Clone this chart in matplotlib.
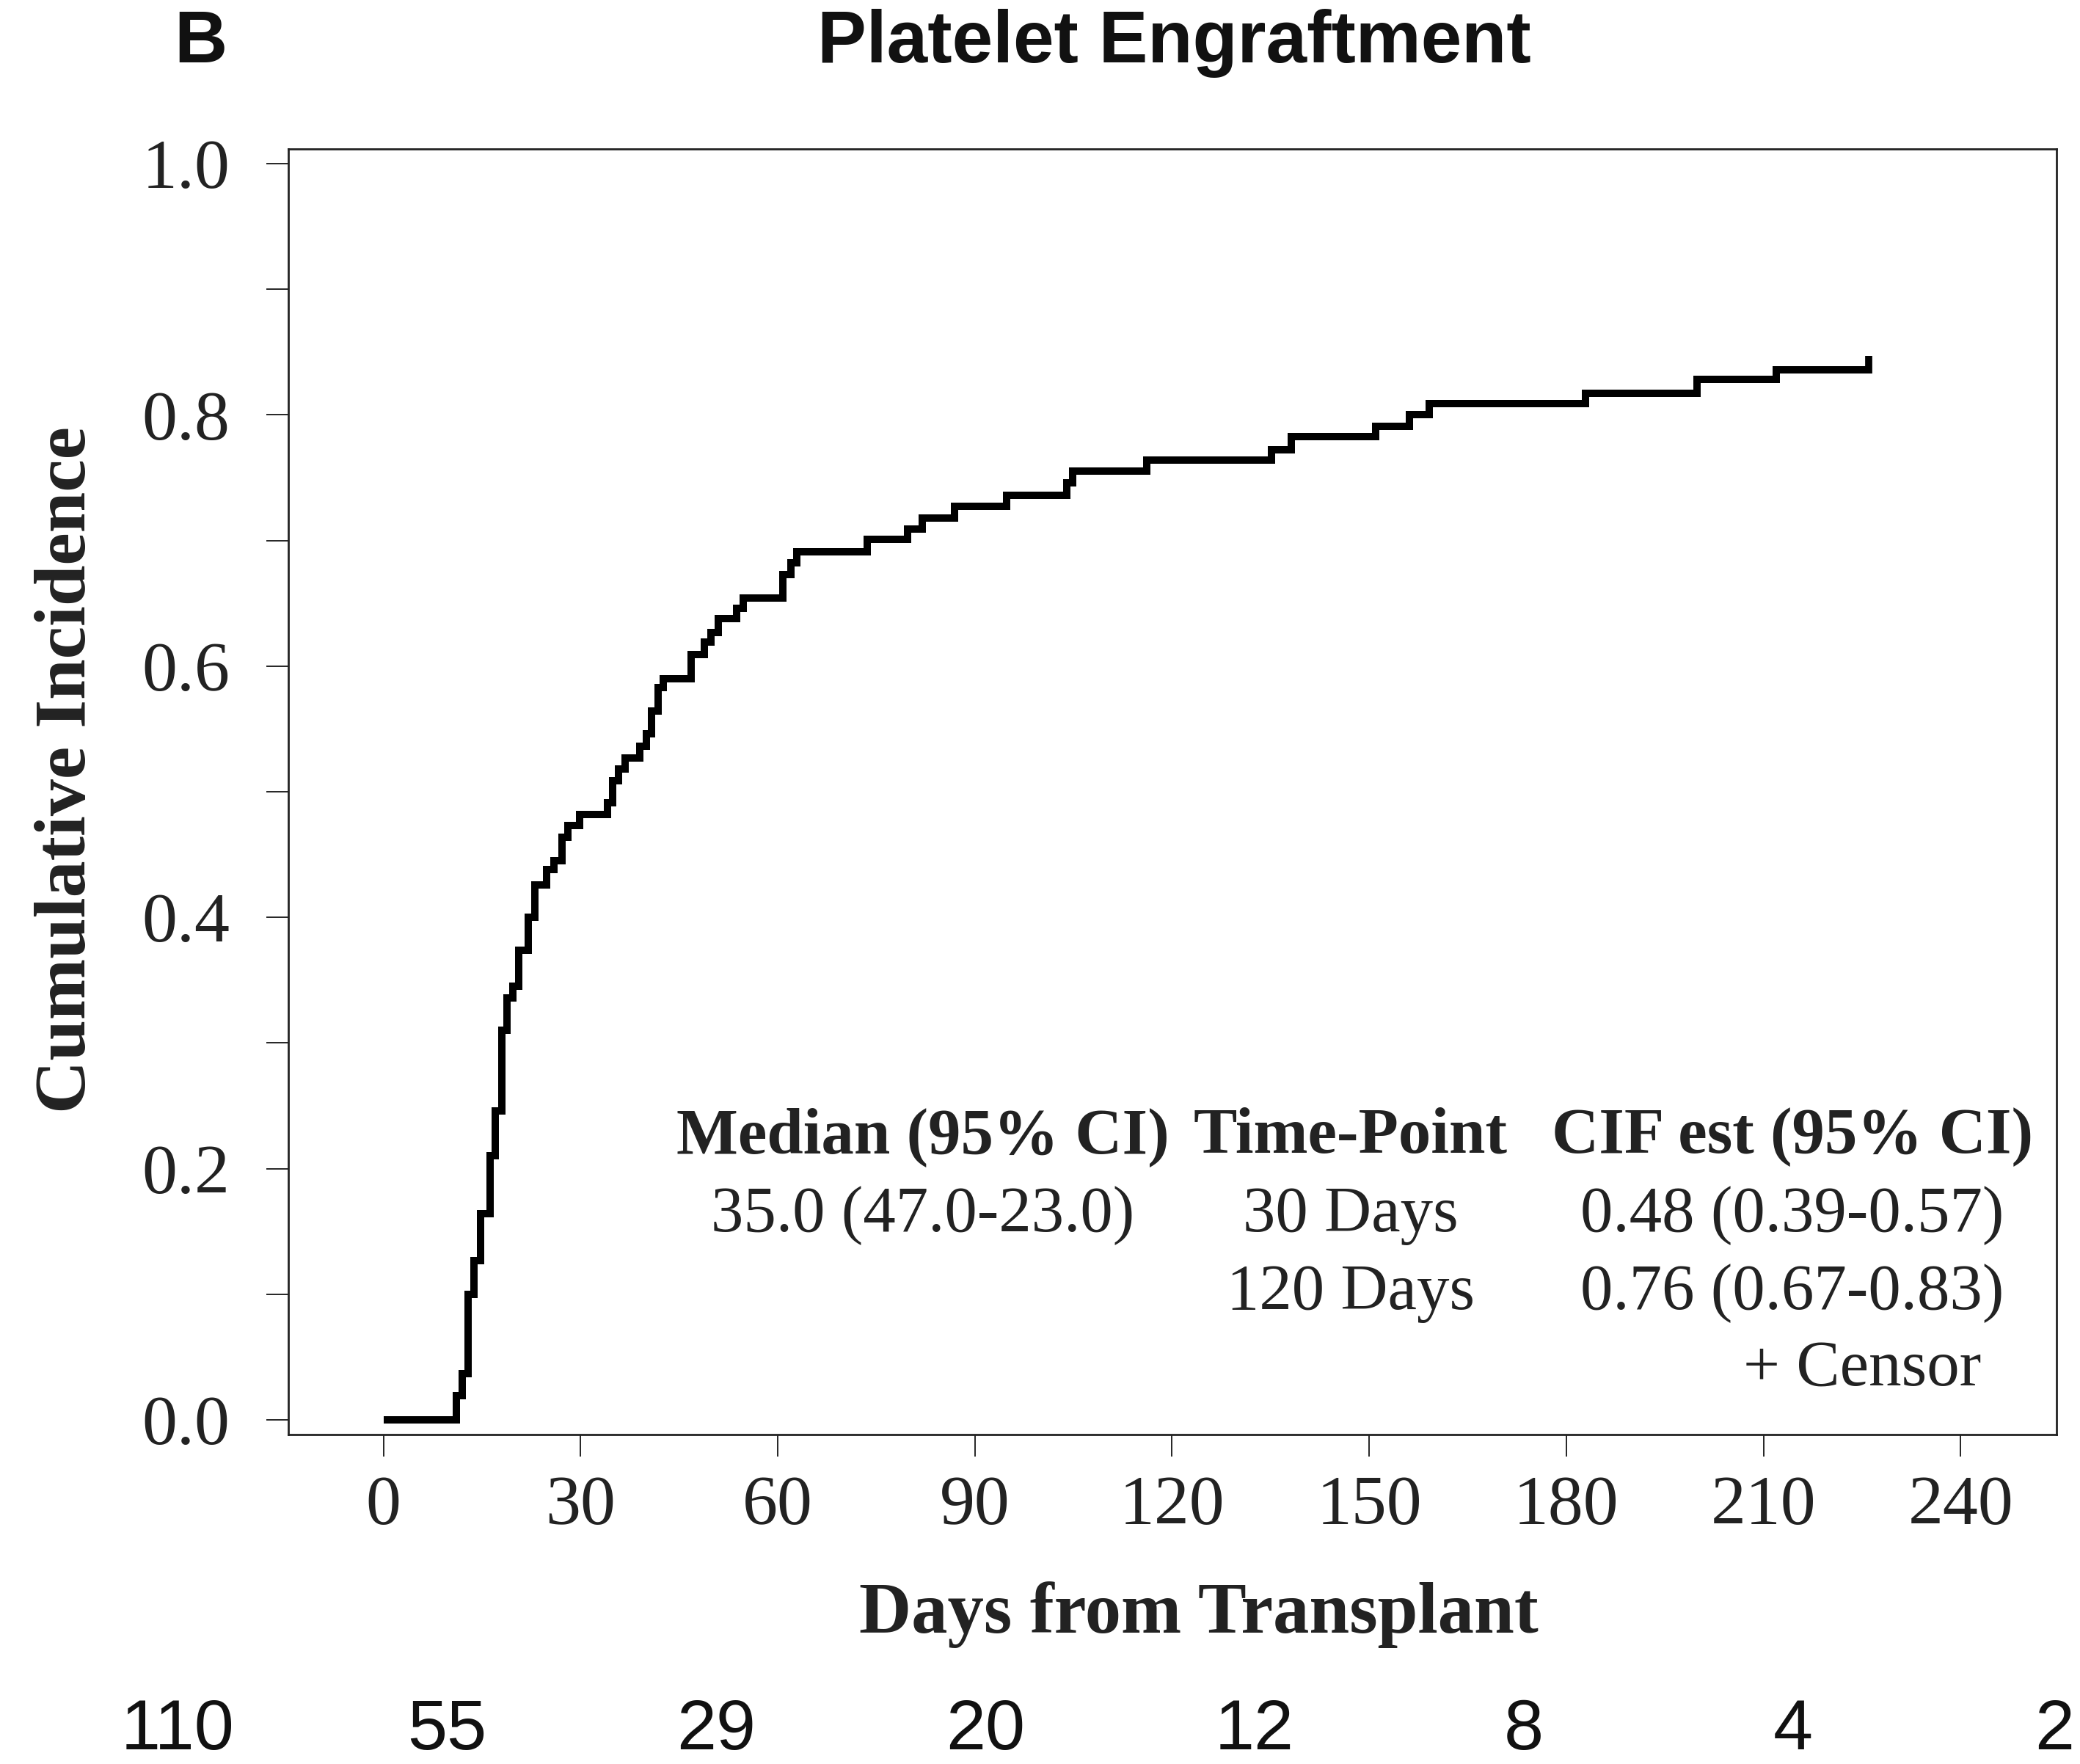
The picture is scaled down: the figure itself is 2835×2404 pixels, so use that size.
import matplotlib
matplotlib.use("Agg")
import matplotlib.pyplot as plt
from matplotlib.ticker import MultipleLocator

# ---------------- data ----------------
event_days = [0, 11.1, 12.0, 12.9, 13.8, 14.8, 16.2, 17.0, 18.0, 18.8, 19.7, 20.6,
              22.1, 23.1, 24.8, 26.0, 27.2, 28.1, 29.9, 34.1, 34.9, 35.8, 36.8,
              39.0, 40.0, 40.8, 41.8, 42.6, 46.8, 48.8, 49.8, 51.0, 53.7, 54.8,
              60.8, 62.0, 62.9, 73.6, 79.8, 82.0, 86.9, 94.8, 104.0, 104.9, 116.2,
              135.1, 138.2, 151.0, 156.1, 159.1, 182.9, 199.9, 212.0]
cif_values = [0, 0.019, 0.037, 0.100, 0.127, 0.164, 0.210, 0.246, 0.310, 0.336,
              0.345, 0.374, 0.400, 0.426, 0.438, 0.445, 0.464, 0.473, 0.482, 0.491,
              0.509, 0.518, 0.527, 0.536, 0.546, 0.564, 0.583, 0.590, 0.609, 0.619,
              0.627, 0.638, 0.646, 0.654, 0.673, 0.682, 0.691, 0.701, 0.709, 0.718,
              0.727, 0.736, 0.746, 0.755, 0.764, 0.772, 0.783, 0.791, 0.800, 0.809,
              0.817, 0.828, 0.836]
last_day = 226.0
censor_days = [226.0]
censor_cif = [0.836]

x_ticks = [0, 30, 60, 90, 120, 150, 180, 210, 240]
y_ticks = [0.0, 0.2, 0.4, 0.6, 0.8, 1.0]
at_risk = [110, 55, 29, 20, 12, 8, 4, 2]

header = ["Median (95% CI)", "Time-Point", "CIF est (95% CI)"]
median_text = "35.0 (47.0-23.0)"
time_points = ["30 Days", "120 Days"]
cif_est = ["0.48 (0.39-0.57)", "0.76 (0.67-0.83)"]

# ---------------- figure ----------------
W, H = 2835, 2404
DPI = 100
fig = plt.figure(figsize=(W / DPI, H / DPI), dpi=DPI)
fig.patch.set_facecolor("white")

SERIF = ["Liberation Serif", "DejaVu Serif"]
SANS = ["Liberation Sans", "DejaVu Sans"]

def fx(px):
    return px / W

def fy(py):
    return 1 - py / H

ax = fig.add_axes([fx(393), fy(1955), (2803 - 393) / W, (1955 - 203) / H])

xs = list(event_days) + [last_day]
ys = list(cif_values) + [cif_values[-1]]
ax.plot(xs, ys, drawstyle="steps-post", color="black", lw=7.2,
        solid_joinstyle="miter", solid_capstyle="butt")
# censor tick: short vertical mark rising from the curve
censor_marker = [(0, -0.25), (0, 1.0)]
ax.plot(censor_days, censor_cif, linestyle="none", marker=censor_marker,
        ms=27, mew=7, color="black", mec="black")

ax.set_xlim(-14.46, 254.6)
ax.set_ylim(-0.0117, 1.0117)
ax.set_xticks(x_ticks)
ax.set_xticklabels([str(v) for v in x_ticks])
ax.set_yticks(y_ticks)
ax.set_yticklabels([f"{v:.1f}" for v in y_ticks])
ax.yaxis.set_minor_locator(MultipleLocator(0.1))

for s in ax.spines.values():
    s.set_linewidth(2.0)
    s.set_color("#222222")

ax.tick_params(axis="both", which="both", direction="out", length=21.6,
               width=1.2, color="black")
ax.tick_params(axis="x", pad=18)
ax.tick_params(axis="y", pad=36)
for lab in ax.get_xticklabels() + ax.get_yticklabels():
    lab.set_fontfamily(SERIF)
    lab.set_fontsize(69)
    lab.set_color("#222222")

# axis labels
fig.text(fx(92), fy(1049), "Cumulative Incidence", rotation=90,
         ha="center", va="center", fontsize=72, fontweight="bold",
         family=SERIF, color="#222222")
fig.text(fx(1634), fy(2225), "Days from Transplant", ha="center",
         va="baseline", fontsize=71, fontweight="bold", family=SERIF,
         color="#222222")

# title and panel letter
fig.text(fx(1600), fy(85), "Platelet Engraftment", ha="center", va="baseline",
         fontsize=72, fontweight="bold", family=SANS, color="#111111")
fig.text(fx(273), fy(85), "B", ha="center", va="baseline",
         fontsize=72, fontweight="bold", family=SANS, color="#111111")

# annotation table
col_x = [1258, 1841, 2443]
fs_tab = 64
for cx, txt in zip(col_x, header):
    fig.text(fx(cx), fy(1571), txt, ha="center", va="baseline",
             fontsize=fs_tab, fontweight="bold", family=SERIF, color="#222222")
fig.text(fx(col_x[0]), fy(1678), median_text, ha="center", va="baseline",
         fontsize=fs_tab, family=SERIF, color="#222222")
for i, (tp, ce) in enumerate(zip(time_points, cif_est)):
    yb = [1678, 1784][i]
    fig.text(fx(col_x[1]), fy(yb), tp, ha="center", va="baseline",
             fontsize=fs_tab, family=SERIF, color="#222222")
    fig.text(fx(col_x[2]), fy(yb), ce, ha="center", va="baseline",
             fontsize=fs_tab, family=SERIF, color="#222222")
fig.text(fx(2700), fy(1888), "+ Censor", ha="right", va="baseline",
         fontsize=fs_tab, family=SERIF, color="#222222")

# numbers at risk row
risk_x = [242 + 367 * i for i in range(len(at_risk))]
risk_x[-1] = min(risk_x[-1], 2800)
for xpos, n in zip(risk_x, at_risk):
    fig.text(fx(xpos), fy(2384), str(n), ha="center", va="baseline",
             fontsize=70, family=SANS, color="#111111")

fig.savefig("out.png", dpi=DPI, facecolor="white")
